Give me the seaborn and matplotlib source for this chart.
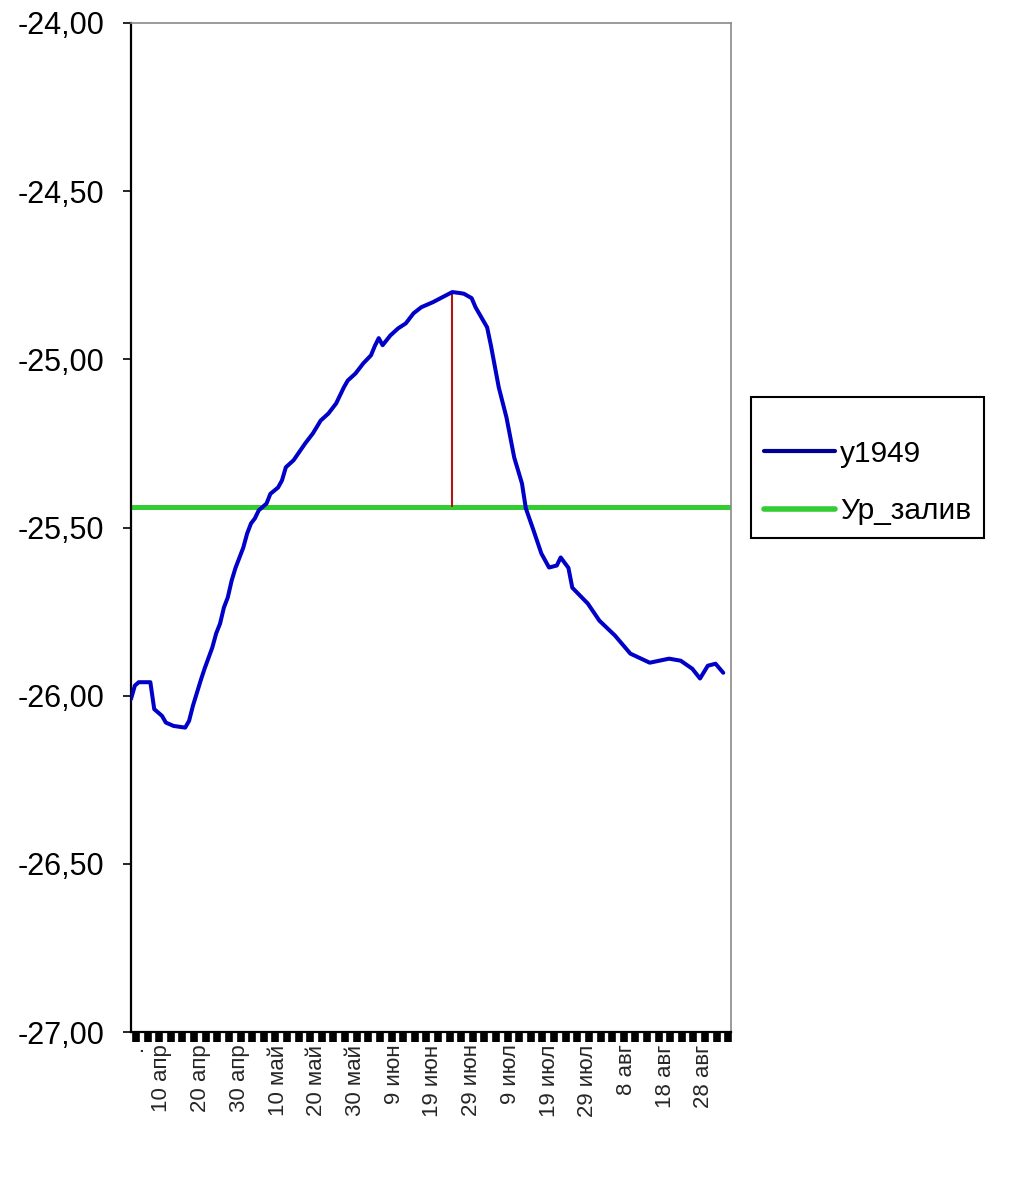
import numpy as np
import pandas as pd
import matplotlib
matplotlib.use("Agg")
import matplotlib.pyplot as plt
import seaborn as sns
from matplotlib.ticker import FuncFormatter, FixedLocator

# ---- data (day index 0 = 2 April 1949) ----
day_index = [0, 1, 2, 5, 6, 8, 9, 11, 14, 15, 16, 18, 19, 21, 22, 23, 24, 25, 26, 27,
             28, 29, 30, 31, 32, 33, 35, 36, 38, 39, 40, 42, 45, 47, 49, 51, 53, 55, 56, 58,
             60, 62, 63, 64, 65, 67, 69, 71, 73, 75, 78, 80, 82, 83, 85, 86, 88, 89, 92, 93,
             95, 97, 99, 101, 102, 104, 106, 108, 110, 111, 113, 114, 118, 121, 125, 129, 134, 139, 142, 145,
             147, 149, 151, 153]
level_1949 = [-26.01, -25.97, -25.96, -25.96, -26.04, -26.06, -26.08, -26.09, -26.095, -26.075,
              -26.03, -25.955, -25.92, -25.857, -25.815, -25.786, -25.738, -25.708, -25.658, -25.62,
              -25.59, -25.56, -25.518, -25.488, -25.473, -25.449, -25.429, -25.40, -25.381, -25.36,
              -25.321, -25.30, -25.25, -25.22, -25.182, -25.161, -25.131, -25.083, -25.063, -25.042,
              -25.012, -24.988, -24.96, -24.937, -24.958, -24.929, -24.908, -24.893, -24.863, -24.845,
              -24.83, -24.818, -24.806, -24.80, -24.803, -24.805, -24.818, -24.845, -24.905, -24.96,
              -25.083, -25.173, -25.292, -25.369, -25.443, -25.509, -25.577, -25.619, -25.613, -25.589,
              -25.62, -25.679, -25.726, -25.777, -25.821, -25.875, -25.902, -25.890, -25.896, -25.920,
              -25.949, -25.911, -25.905, -25.932]

flood_level = -25.44
first_day, last_day = 0, 155

tick_days = [1.5, 8, 18, 28, 38, 48, 58, 68, 78, 88, 98, 108, 118, 128, 138, 148]
tick_labels = [".", "10 апр", "20 апр", "30 апр", "10 май", "20 май", "30 май",
               "9 июн", "19 июн", "29 июн", "9 июл", "19 июл", "29 июл",
               "8 авг", "18 авг", "28 авг"]

series_names = ["y1949", "Ур_залив"]

# ---- style ----
sns.set_style("white")
plt.rcParams["font.family"] = ["Liberation Sans", "DejaVu Sans"]

W, H = 1009, 1185
fig = plt.figure(figsize=(W / 100, H / 100), dpi=100)
ax = fig.add_axes([131 / W, 1 - 1032 / H, 600 / W, 1009 / H])

df_main = pd.DataFrame({"day": day_index, "level": level_1949})
df_flood = pd.DataFrame({"day": [first_day, last_day], "level": [flood_level, flood_level]})

sns.lineplot(data=df_flood, x="day", y="level", ax=ax, color="#33CC33", linewidth=3.6,
             label=series_names[1], zorder=2)
sns.lineplot(data=df_main, x="day", y="level", ax=ax, color="#0000C8", linewidth=2.9,
             label=series_names[0], zorder=3)

# red vertical line from the flood level to the peak
imax = int(np.argmax(level_1949))
ax.vlines(day_index[imax], flood_level, level_1949[imax], color="#B41414", linewidth=1.5, zorder=2.5)

ax.set_xlim(first_day, last_day)
ax.set_ylim(-27, -24)
ax.set_xlabel("")
ax.set_ylabel("")

ax.yaxis.set_major_locator(FixedLocator(np.arange(-27, -23.99, 0.5)))
ax.yaxis.set_major_formatter(FuncFormatter(lambda v, p: f"{v:.2f}".replace(".", ",")))
ax.tick_params(axis="y", which="major", left=True, direction="out", length=6, width=1.2,
               pad=13, labelsize=22, colors="black")

ax.xaxis.set_major_locator(FixedLocator(tick_days))
ax.set_xticklabels(tick_labels, rotation=90, fontsize=16, va="top", ha="center")
ax.tick_params(axis="x", which="major", bottom=True, length=0, pad=9)
ax.xaxis.set_minor_locator(FixedLocator(np.arange(1.3, last_day, 3)))
ax.tick_params(axis="x", which="minor", bottom=True, direction="out", length=7.5, width=5.5,
               color="black")

for side in ["left", "bottom"]:
    ax.spines[side].set_color("black")
    ax.spines[side].set_linewidth(1.6)
for side in ["top", "right"]:
    ax.spines[side].set_color("#8a8a8a")
    ax.spines[side].set_linewidth(1.2)

# legend: y1949 first
handles, labels = ax.get_legend_handles_labels()
order = [labels.index(series_names[0]), labels.index(series_names[1])]
leg = ax.legend([handles[i] for i in order], [labels[i] for i in order],
                loc="upper left", bbox_to_anchor=(751 / W, 1 - 397 / H),
                bbox_transform=fig.transFigure, fontsize=21.5, title=" ", title_fontsize=1,
                frameon=True, fancybox=False, framealpha=1, edgecolor="black",
                handlelength=2.4, handletextpad=0.17, borderpad=0.42, labelspacing=0.98,
                borderaxespad=0)
leg.get_frame().set_linewidth(1.5)
for txt in leg.get_texts():
    txt.set_color("black")
for line, lw in zip(leg.get_lines(), [3.0, 4.0]):
    line.set_linewidth(lw)
leg.get_lines()[0].set_color("#000090")

fig.savefig("out.png", dpi=100, facecolor="white")
